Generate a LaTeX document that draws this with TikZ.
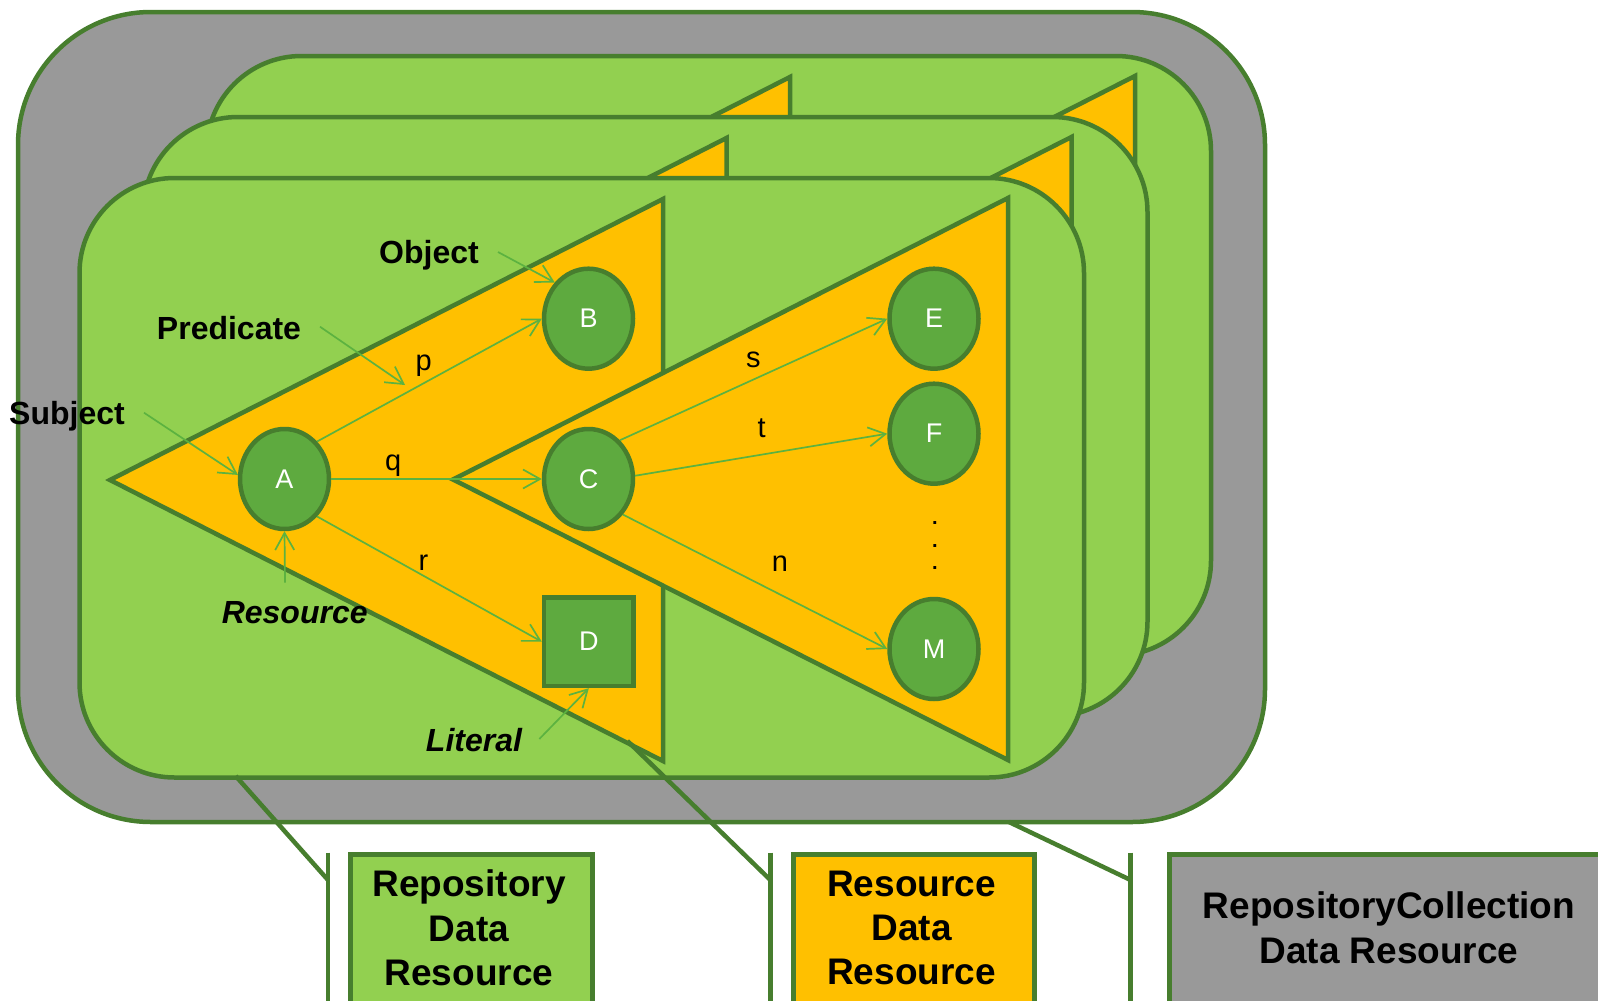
\documentclass[tikz,border=0pt]{standalone}
\usepackage{fontspec}
\setmainfont{Liberation Sans}
\usetikzlibrary{shapes.geometric,arrows.meta}
\definecolor{dgreen}{RGB}{71,126,46}
\definecolor{lgreen}{RGB}{146,208,80}
\definecolor{yel}{RGB}{255,192,0}
\definecolor{ngreen}{RGB}{94,170,63}
\definecolor{agreen}{RGB}{92,178,64}
\definecolor{gfill}{RGB}{153,153,153}
\newcommand\annfont{\fontsize{32}{38}\selectfont\bfseries}
\newcommand\edgefont{\fontsize{29}{34}\selectfont}
\newcommand\letterfont{\fontsize{27}{32}\selectfont}
\newcommand\boxfont{\fontsize{37}{44.3}\selectfont\bfseries}
\newcommand\dotfont{\fontsize{20}{22}\selectfont\bfseries}
\begin{document}
\begin{tikzpicture}[x=1pt,y=-1pt,
  layer/.style={draw=dgreen, fill=lgreen, line width=4.5pt, rounded corners=95pt},
  tri/.style={draw=dgreen, fill=yel, line width=4.5pt, line join=miter},
  res/.style={ellipse, draw=dgreen, fill=ngreen, line width=4.5pt, minimum width=89pt, minimum height=100pt, inner sep=0pt, text=white, font=\letterfont},
  lit/.style={rectangle, draw=dgreen, fill=ngreen, line width=4.5pt, minimum width=89.5pt, minimum height=88.5pt, inner sep=0pt, text=white, font=\letterfont},
  rel/.style={draw=agreen, line width=1.7pt, -{Straight Barb[length=17pt,width=19pt]}},
  elbl/.style={anchor=base, inner sep=0pt, font=\edgefont},
  ann/.style={anchor=base, inner sep=0pt, font=\annfont},
  annit/.style={anchor=base, inner sep=0pt, font=\annfont\itshape},
  dotlbl/.style={anchor=base, inner sep=0pt, font=\dotfont},
  callout/.style={draw=dgreen, line width=4.5pt},
  cbox/.style={draw=dgreen, line width=4.5pt, anchor=north west, minimum height=260pt, inner sep=0pt},
  btxt/.style={align=center, font=\boxfont, inner sep=0pt}
]
\useasboundingbox (0,0) rectangle (1598,1001);
\clip (0,0) rectangle (1598,1001);

% outer collection
\draw[draw=dgreen, fill=gfill, line width=4.5pt, rounded corners=133pt] (18,12) rectangle (1265,822);

% stacked repositories
\foreach \dx/\dy in {127/-122, 63.5/-61, 0/0} {
  \begin{scope}[shift={(\dx,\dy)}]
    \draw[layer] (79.5,178) rectangle (1084,777.5);
    \draw[tri] (110,480) -- (663,199) -- (663,761) -- cycle;
    \draw[tri] (453,479.5) -- (1008,198) -- (1008,760) -- cycle;
  \end{scope}
}

% resources
\node[res] (A) at (284.5,479) {A};
\node[res] (B) at (588.5,318.7) {B};
\node[res] (C) at (588.5,479) {C};
\node[lit] (D) at (588.8,641.7) {D};
\node[res] (E) at (934,318.7) {E};
\node[res] (F) at (934,433.7) {F};
\node[res] (M) at (934,649) {M};

% relations
\draw[rel] (A.49) -- (B.west);
\draw[rel] (A.east) -- (C.west);
\draw[rel] (A.-49) -- (D.west);
\draw[rel] (C.51) -- (E.west);
\draw[rel] (C.4) -- (F.west);
\draw[rel] (C.-46) -- (M.west);

\node[elbl] (lp) at (423.7,370) {p};
\node[elbl] (lq) at (393.3,470) {q};
\node[elbl] (lr) at (423.5,570) {r};
\node[elbl] (ls) at (753.3,367) {s};
\node[elbl] (lt) at (761.7,437) {t};
\node[elbl] (ln) at (780,571.7) {n};

\node[dotlbl] (dot1) at (935,524.7) {.};
\node[dotlbl] (dot2) at (935,547.7) {.};
\node[dotlbl] (dot3) at (935,569.7) {.};

% annotations
\node[ann] (subj) at (67,424) {Subject};
\node[ann] (pred) at (229,339.3) {Predicate};
\node[ann] (obj) at (429,263.3) {Object};
\node[annit] (resl) at (294.7,623.3) {Resource};
\node[annit] (litl) at (474,751.7) {Literal};

\coordinate (subjS) at (144,412.7);
\coordinate (predS) at (320,326.7);
\coordinate (predT) at (405,385);
\coordinate (objS) at (498,252);
\coordinate (resS) at (285,582.7);
\coordinate (litS) at (539.3,739);
\draw[rel] (subjS) -- (A.175);
\draw[rel] (predS) -- (predT);
\draw[rel] (objS) -- (B.133);
\draw[rel] (resS) -- (A.south);
\draw[rel] (litS) -- (D.south);

% callouts
\coordinate (k1a) at (235.7,776);
\coordinate (k1b) at (328,880);
\coordinate (k1t) at (328,852.7);
\coordinate (k1u) at (328,1010);
\draw[callout] (k1a) -- (k1b);
\draw[callout] (k1t) -- (k1u);
\node[cbox, fill=lgreen, minimum width=242pt] (box1) at (348,852) {};
\node[btxt] (box1t) at (469,928) {Repository\\Data\\Resource};

\coordinate (k2a) at (627.5,741);
\coordinate (k2b) at (770.4,880);
\coordinate (k2t) at (770.4,852.7);
\coordinate (k2u) at (770.4,1010);
\draw[callout] (k2a) -- (k2b);
\draw[callout] (k2t) -- (k2u);
\node[cbox, fill=yel, minimum width=241pt] (box2) at (791,852) {};
\node[btxt] (box2t) at (911.5,928) {Resource\\Data\\Resource};

\coordinate (k3a) at (1009,822);
\coordinate (k3b) at (1130.6,880);
\coordinate (k3t) at (1130.6,852.7);
\coordinate (k3u) at (1130.6,1010);
\draw[callout] (k3a) -- (k3b);
\draw[callout] (k3t) -- (k3u);
\node[cbox, fill=gfill, minimum width=460pt] (box3) at (1167,852) {};
\node[btxt] (box3t) at (1389,927.7) {RepositoryCollection\\Data Resource};
\end{tikzpicture}
\end{document}
